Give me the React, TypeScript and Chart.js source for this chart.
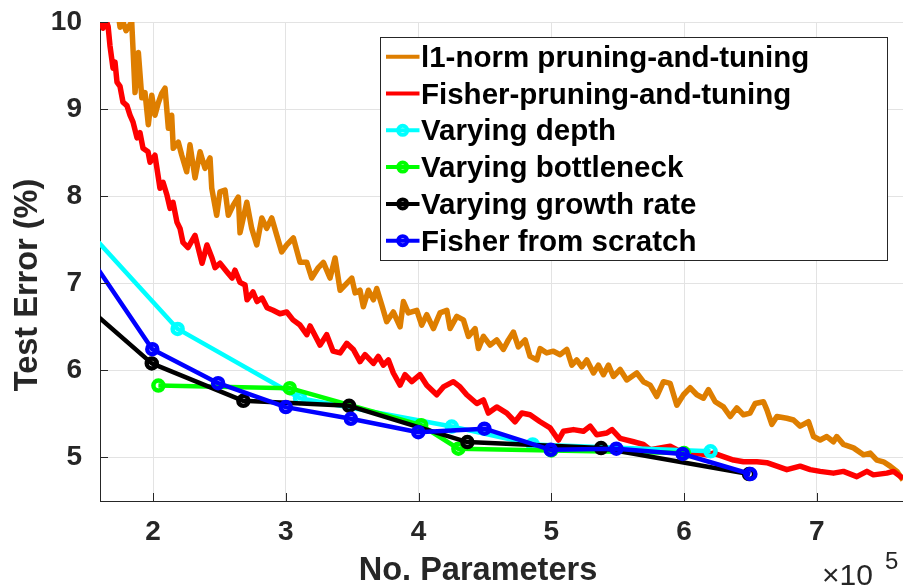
import React, { useEffect, useRef } from "react";
import { Chart, registerables } from "chart.js";

Chart.register(...registerables);

// ---------- data (x in units of 10^5 parameters, y = test error %) ----------
const xTicks = [2, 3, 4, 5, 6, 7];
const yTicks = [5, 6, 7, 8, 9, 10];

const l1NormX = [
  1.721, 1.751, 1.773, 1.796, 1.839, 1.851, 1.864, 1.889, 1.915, 1.939, 1.964, 1.99, 2.014, 2.039, 2.065, 2.09,
  2.115, 2.14, 2.152, 2.19, 2.216, 2.253, 2.278, 2.316, 2.354, 2.391, 2.429, 2.442, 2.479, 2.504, 2.542, 2.567,
  2.605, 2.642, 2.655, 2.706, 2.743, 2.781, 2.819, 2.856, 2.894, 2.932, 2.969, 3.007, 3.057, 3.107, 3.158, 3.195,
  3.245, 3.283, 3.333, 3.371, 3.409, 3.459, 3.497, 3.522, 3.559, 3.584, 3.622, 3.66, 3.685, 3.723, 3.76, 3.81,
  3.861, 3.886, 3.923, 3.987, 4.024, 4.062, 4.112, 4.162, 4.213, 4.238, 4.288, 4.338, 4.376, 4.426, 4.451, 4.489,
  4.539, 4.589, 4.639, 4.677, 4.715, 4.752, 4.803, 4.84, 4.891, 4.916, 4.966, 5.016, 5.067, 5.117, 5.155, 5.192,
  5.23, 5.268, 5.318, 5.355, 5.393, 5.431, 5.468, 5.519, 5.569, 5.644, 5.694, 5.745, 5.795, 5.845, 5.896, 5.946,
  5.996, 6.046, 6.097, 6.147, 6.184, 6.235, 6.297, 6.348, 6.398, 6.448, 6.498, 6.536, 6.599, 6.624, 6.662, 6.7,
  6.775, 6.825, 6.875, 6.938, 6.976, 7.026, 7.076, 7.126, 7.151, 7.201, 7.277, 7.352, 7.403, 7.453, 7.503, 7.553,
  7.604, 7.65,
];
const l1NormY = [
  10.3, 9.94, 10.0, 9.9, 10.0, 9.62, 9.19, 9.65, 9.13, 9.19, 8.82, 9.16, 8.93, 9.07, 9.18, 9.24,
  8.78, 8.93, 8.55, 8.62, 8.47, 8.28, 8.59, 8.21, 8.51, 8.32, 8.44, 8.09, 7.78, 8.05, 8.07, 7.78,
  7.9, 7.99, 7.58, 7.93, 7.63, 7.44, 7.75, 7.63, 7.75, 7.55, 7.36, 7.44, 7.52, 7.24, 7.24, 7.06,
  7.18, 7.24, 7.06, 7.29, 6.92, 7.0, 7.06, 6.89, 6.92, 6.73, 6.92, 6.81, 6.94, 6.75, 6.56, 6.67,
  6.5, 6.79, 6.66, 6.69, 6.52, 6.64, 6.48, 6.66, 6.69, 6.48, 6.62, 6.58, 6.39, 6.48, 6.25, 6.39,
  6.29, 6.35, 6.24, 6.35, 6.44, 6.27, 6.35, 6.16, 6.12, 6.25, 6.2, 6.22, 6.18, 6.24, 6.06, 6.12,
  6.04, 6.12, 5.97, 6.06, 5.95, 6.06, 5.93, 6.01, 5.89, 5.97, 5.87, 5.83, 5.7, 5.87, 5.85, 5.6,
  5.72, 5.8, 5.72, 5.68, 5.78, 5.64, 5.58, 5.47, 5.57, 5.49, 5.51, 5.62, 5.64, 5.55, 5.38, 5.47,
  5.45, 5.43, 5.36, 5.41, 5.24, 5.2, 5.24, 5.18, 5.24, 5.15, 5.11, 5.03, 5.05, 4.97, 4.95, 4.9,
  4.84, 4.74,
];

const fisherPruneX = [
  1.6, 1.623, 1.645, 1.661, 1.675, 1.698, 1.713, 1.728, 1.751, 1.773, 1.803, 1.826, 1.849, 1.879, 1.901, 1.924,
  1.962, 1.977, 2.014, 2.037, 2.052, 2.075, 2.105, 2.128, 2.15, 2.18, 2.203, 2.225, 2.263, 2.316, 2.354, 2.369,
  2.406, 2.444, 2.467, 2.504, 2.557, 2.595, 2.617, 2.655, 2.693, 2.708, 2.753, 2.783, 2.821, 2.859, 2.904, 2.956,
  3.007, 3.054, 3.107, 3.158, 3.183, 3.258, 3.308, 3.356, 3.409, 3.459, 3.509, 3.559, 3.597, 3.66, 3.697, 3.735,
  3.773, 3.81, 3.861, 3.898, 3.949, 4.011, 4.062, 4.137, 4.187, 4.262, 4.313, 4.363, 4.439, 4.489, 4.526, 4.589,
  4.665, 4.727, 4.778, 4.84, 4.916, 4.991, 5.054, 5.091, 5.167, 5.242, 5.293, 5.343, 5.418, 5.458, 5.519, 5.619,
  5.694, 5.745, 5.82, 5.896, 5.971, 6.071, 6.172, 6.222, 6.297, 6.373, 6.448, 6.549, 6.624, 6.7, 6.775, 6.875,
  6.951, 7.026, 7.126, 7.201, 7.302, 7.378, 7.427, 7.528, 7.578, 7.65,
];
const fisherPruneY = [
  10.02, 9.93, 10.02, 9.95, 9.73, 9.47, 9.54, 9.31, 9.26, 9.08, 9.04, 8.93, 8.85, 8.67, 8.73, 8.55,
  8.51, 8.39, 8.47, 8.24, 8.09, 8.16, 8.01, 7.86, 7.93, 7.7, 7.63, 7.47, 7.41, 7.55, 7.32, 7.23,
  7.44, 7.29, 7.18, 7.23, 7.13, 7.06, 7.15, 7.01, 6.98, 6.81, 6.9, 6.79, 6.83, 6.72, 6.69, 6.65,
  6.67, 6.58, 6.52, 6.41, 6.51, 6.29, 6.41, 6.22, 6.2, 6.31, 6.24, 6.1, 6.18, 6.08, 6.16, 6.06,
  6.12, 5.97, 5.83, 5.95, 5.87, 5.95, 5.83, 5.72, 5.81, 5.87, 5.81, 5.72, 5.62, 5.66, 5.51, 5.58,
  5.51, 5.41, 5.51, 5.49, 5.41, 5.34, 5.2, 5.3, 5.32, 5.3, 5.36, 5.26, 5.28, 5.32, 5.22, 5.18,
  5.15, 5.09, 5.11, 5.13, 5.07, 5.05, 5.03, 5.05, 5.01, 4.97, 4.95, 4.95, 4.94, 4.9, 4.86, 4.9,
  4.86, 4.84, 4.82, 4.84, 4.78, 4.84, 4.8, 4.82, 4.84, 4.76,
];

const depthX = [1.5, 2.185, 3.107, 4.25, 4.86, 6.2];
const depthY = [7.62, 6.476, 5.68, 5.355, 5.15, 5.07];

const bottleneckX = [2.04, 3.03, 4.02, 4.3, 5.0, 6.0];
const bottleneckY = [5.826, 5.796, 5.37, 5.1, 5.08, 5.05];

const growthX = [1.5, 1.99, 2.68, 3.477, 4.368, 5.375, 6.49];
const growthY = [6.73, 6.08, 5.65, 5.593, 5.177, 5.108, 4.81];

const scratchX = [1.5, 1.994, 2.49, 3.0, 3.49, 3.998, 4.496, 4.996, 5.49, 5.99, 6.5];
const scratchY = [7.355, 6.243, 5.853, 5.578, 5.444, 5.29, 5.33, 5.088, 5.1, 5.04, 4.81];

const seriesLabels = [
  "l1-norm pruning-and-tuning",
  "Fisher-pruning-and-tuning",
  "Varying depth",
  "Varying bottleneck",
  "Varying growth rate",
  "Fisher from scratch",
];
const seriesColors = ["#DE7E00", "#FF0000", "#00FFFF", "#00FF00", "#000000", "#0000FF"];

const FONT = '"Liberation Sans", Arial, Helvetica, sans-serif';
const AXIS_COLOR = "#262626";

export default function App() {
  const ref = useRef<HTMLCanvasElement>(null);

  useEffect(() => {
    document.body.style.margin = "0";
    const canvas = ref.current;
    if (!canvas) return;

    const xsList = [l1NormX, fisherPruneX, depthX, bottleneckX, growthX, scratchX];
    const ysList = [l1NormY, fisherPruneY, depthY, bottleneckY, growthY, scratchY];
    const hasMarker = [false, false, true, true, true, true];
    const widths = [5.5, 5.5, 4.5, 4.5, 4.5, 4.5];

    const datasets = seriesLabels.map((label, i) => ({
      label,
      data: xsList[i].map((x, k) => ({ x, y: ysList[i][k] })),
      showLine: true,
      borderColor: seriesColors[i],
      backgroundColor: seriesColors[i],
      borderWidth: widths[i],
      pointRadius: hasMarker[i] ? 5 : 0,
      pointHoverRadius: hasMarker[i] ? 5 : 0,
      pointBorderWidth: 4.5,
      pointBorderColor: seriesColors[i],
      pointBackgroundColor: "rgba(0,0,0,0)",
      borderJoinStyle: "round" as const,
      tension: 0,
      clip: 0,
      order: seriesLabels.length - i,
    }));

    const decor = {
      id: "decor",
      afterDraw(chart: any) {
        const { ctx, chartArea: ca, scales } = chart;
        const xs = scales.x;
        const ys = scales.y;
        ctx.save();

        // inward tick marks
        ctx.strokeStyle = AXIS_COLOR;
        ctx.lineWidth = 1;
        yTicks.forEach((v) => {
          const py = Math.round(ys.getPixelForValue(v)) + 0.5;
          ctx.beginPath();
          ctx.moveTo(ca.left, py);
          ctx.lineTo(ca.left + 8, py);
          ctx.stroke();
        });
        xTicks.forEach((v) => {
          const px = Math.round(xs.getPixelForValue(v)) + 0.5;
          ctx.beginPath();
          ctx.moveTo(px, ca.bottom);
          ctx.lineTo(px, ca.bottom - 8);
          ctx.stroke();
        });

        // legend
        const bx = 380.5, by = 37.5, bw = 507, bh = 223;
        ctx.fillStyle = "#ffffff";
        ctx.fillRect(bx, by, bw, bh);
        ctx.strokeStyle = AXIS_COLOR;
        ctx.lineWidth = 1;
        ctx.strokeRect(bx, by, bw, bh);
        ctx.font = `bold 29.5px ${FONT}`;
        ctx.textAlign = "left";
        ctx.textBaseline = "alphabetic";
        seriesLabels.forEach((label, i) => {
          const ly = 56.7 + i * 36.8;
          ctx.strokeStyle = seriesColors[i];
          ctx.lineWidth = 4;
          ctx.beginPath();
          ctx.moveTo(386, ly);
          ctx.lineTo(419.5, ly);
          ctx.stroke();
          if (hasMarker[i]) {
            ctx.lineWidth = 4;
            ctx.beginPath();
            ctx.arc(402.7, ly, 4.5, 0, Math.PI * 2);
            ctx.stroke();
          }
          ctx.fillStyle = "#000000";
          ctx.fillText(label, 421, ly + 10);
        });

        // axis titles
        ctx.fillStyle = AXIS_COLOR;
        ctx.font = `bold 32.5px ${FONT}`;
        ctx.textAlign = "center";
        ctx.fillText("No. Parameters", 478, 580);
        ctx.save();
        ctx.translate(37, 285);
        ctx.rotate(-Math.PI / 2);
        ctx.fillText("Test Error (%)", 0, 0);
        ctx.restore();

        // exponent
        ctx.textAlign = "left";
        ctx.font = `30px ${FONT}`;
        ctx.fillText("\u00d710", 822, 585);
        ctx.font = `24px ${FONT}`;
        ctx.fillText("5", 885, 569);

        ctx.restore();
      },
    };

    const chart = new Chart(canvas, {
      type: "scatter",
      data: { datasets },
      options: {
        animation: false,
        responsive: false,
        devicePixelRatio: 1,
        layout: { autoPadding: false, padding: { top: 22, right: 0, left: 0, bottom: 0 } },
        plugins: { legend: { display: false }, tooltip: { enabled: false } },
        events: [],
        scales: {
          x: {
            type: "linear",
            min: 1.6,
            max: 7.65,
            afterBuildTicks: (scale: any) => {
              scale.ticks = xTicks.map((v) => ({ value: v }));
            },
            afterFit: (scale: any) => {
              scale.height = 87;
              scale.paddingLeft = 0;
              scale.paddingRight = 0;
              scale.paddingTop = 0;
              scale.paddingBottom = 0;
            },
            grid: { color: "#e3e3e3", lineWidth: 1, drawTicks: false },
            border: { display: true, color: AXIS_COLOR, width: 1 },
            ticks: {
              autoSkip: false,
              maxRotation: 0,
              padding: 14,
              color: AXIS_COLOR,
              font: { family: FONT, size: 28, weight: "bold" },
              callback: (v: any) => String(v),
            },
          },
          y: {
            type: "linear",
            min: 4.5,
            max: 10,
            afterBuildTicks: (scale: any) => {
              scale.ticks = yTicks.map((v) => ({ value: v }));
            },
            afterFit: (scale: any) => {
              scale.width = 100;
              scale.paddingLeft = 0;
              scale.paddingRight = 0;
              scale.paddingTop = 0;
              scale.paddingBottom = 0;
            },
            grid: { color: "#e3e3e3", lineWidth: 1, drawTicks: false },
            border: { display: true, color: AXIS_COLOR, width: 1 },
            ticks: {
              autoSkip: false,
              padding: 18,
              color: AXIS_COLOR,
              font: { family: FONT, size: 28, weight: "bold" },
              callback: (v: any) => String(v),
            },
          },
        },
      },
      plugins: [decor],
    });

    return () => chart.destroy();
  }, []);

  return <canvas ref={ref} width={903} height={588} style={{ display: "block" }} />;
}
